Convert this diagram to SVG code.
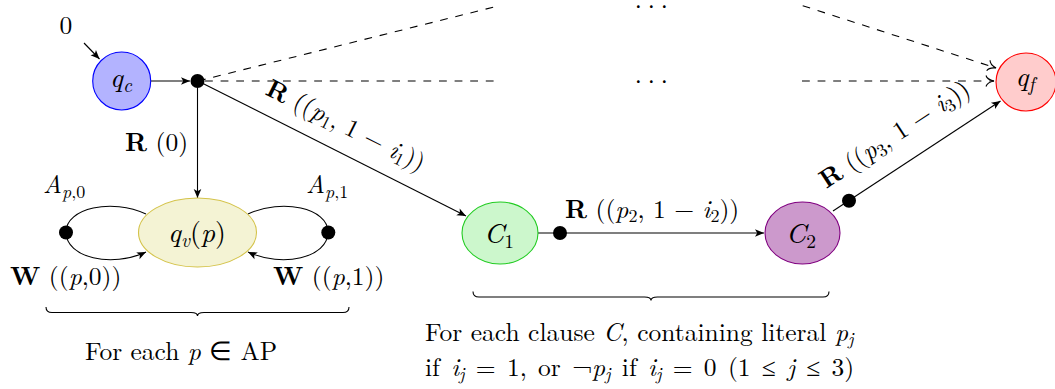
<svg xmlns="http://www.w3.org/2000/svg" width="1055" height="389" viewBox="0 0 1055 389" font-family="'Latin Modern Roman', 'Liberation Serif', serif">
<defs>
<style>
text{font-size:25.5px;fill:#000}
.i{font-style:italic}
.b{font-weight:bold}
.s{font-size:18px}
.n{font-size:28px}
.ns{font-size:19.5px}
.e{stroke:#000;stroke-width:1.1;fill:none}
.d{stroke-dasharray:7.8 7.8}
.dot{fill:#000}
</style>
<marker id="ah" markerUnits="userSpaceOnUse" markerWidth="12" markerHeight="10" refX="9" refY="5" orient="auto" overflow="visible">
<path d="M0,1.2 L9,5 L0,8.8 L2.2,5 Z" fill="#000"/>
</marker>
<marker id="ao" markerUnits="userSpaceOnUse" markerWidth="12" markerHeight="12" refX="10" refY="6" orient="auto" overflow="visible">
<path d="M2,0.5 Q3,4.5 10,6 Q3,7.5 2,11.5" fill="none" stroke="#000" stroke-width="1.1"/>
</marker>
</defs>
<rect width="1055" height="389" fill="#fff"/>

<g id="connectors">
<path class="e" d="M84,43 L99.5,59" marker-end="url(#ah)"/>
<path class="e" d="M151,81 L190,81" marker-end="url(#ah)"/>
<path class="e" d="M197.5,88 L197.5,198" marker-end="url(#ah)"/>
<path class="e" d="M198,81 L466,216" marker-end="url(#ah)"/>
<path class="e" d="M538,233 L764,233" marker-end="url(#ah)"/>
<path class="e" d="M833,211 L1000.5,101" marker-end="url(#ah)"/>
<path class="e" d="M66,232 C66,208 112,198 146,214"/>
<path class="e" d="M66,232 C66,258 112,268 146,252" marker-end="url(#ah)"/>
<path class="e" d="M328,232 C328,208 282,198 248,214"/>
<path class="e" d="M328,232 C328,258 282,268 248,252" marker-end="url(#ah)"/>
<path class="e d" d="M198,81 L499.3,5.7"/>
<path class="e d" d="M802.7,5.7 L996,68" marker-end="url(#ao)"/>
<path class="e d" d="M205,81 L500,81"/>
<path class="e d" d="M802,81 L994,81" marker-end="url(#ao)"/>
<text x="0" y="0" transform="translate(334,149) rotate(26.57)" text-anchor="middle" dy="-18"><tspan class="b">R</tspan> ((<tspan class="i">p</tspan><tspan class="s" dy="4">1</tspan><tspan dy="-4">, 1 − </tspan><tspan class="i">i</tspan><tspan class="s" dy="4">1</tspan><tspan dy="-4">))</tspan></text>
<text x="565" y="218"><tspan class="b">R</tspan> ((<tspan class="i">p</tspan><tspan class="s" dy="4">2</tspan><tspan dy="-4">, 1 − </tspan><tspan class="i">i</tspan><tspan class="s" dy="4">2</tspan><tspan dy="-4">))</tspan></text>
<text x="0" y="0" transform="translate(910,158) rotate(-33.3)" text-anchor="middle" dy="-20"><tspan class="b">R</tspan> ((<tspan class="i">p</tspan><tspan class="s" dy="4">3</tspan><tspan dy="-4">, 1 − </tspan><tspan class="i">i</tspan><tspan class="s" dy="4">3</tspan><tspan dy="-4">))</tspan></text>
<text x="125" y="151"><tspan class="b">R</tspan> (0)</text>
<text x="43" y="193"><tspan class="i">A</tspan><tspan class="s i" dy="5">p</tspan><tspan class="s">,0</tspan></text>
<text x="306" y="193"><tspan class="i">A</tspan><tspan class="s i" dy="5">p</tspan><tspan class="s">,1</tspan></text>
<text x="10" y="285"><tspan class="b">W</tspan> ((<tspan class="i">p</tspan>,0))</text>
<text x="273" y="285"><tspan class="b">W</tspan> ((<tspan class="i">p</tspan>,1))</text>
</g>

<g id="init-label"><text x="66" y="34" text-anchor="middle">0</text></g>

<g id="qc">
<circle cx="121.7" cy="81" r="29" fill="#b3b3ff" stroke="#0000ff" stroke-width="1.1"/>
<text class="n" x="121" y="87" text-anchor="middle"><tspan class="i">q</tspan><tspan class="ns i" dy="4.5">c</tspan></text>
</g>
<g id="split-dot"><circle class="dot" cx="197.5" cy="81" r="7"/></g>

<g id="qv">
<ellipse cx="197.5" cy="232.5" rx="59" ry="34.5" fill="#f4f3d4" stroke="#d4c34a" stroke-width="1.1"/>
<text class="n" x="197" y="242" text-anchor="middle"><tspan class="i">q</tspan><tspan class="ns i" dy="4.5">v</tspan><tspan dy="-4.5">(</tspan><tspan class="i">p</tspan>)</text>
</g>
<g id="dot-p0"><circle class="dot" cx="66" cy="232.5" r="7"/></g>
<g id="dot-p1"><circle class="dot" cx="328.3" cy="232.5" r="7"/></g>

<g id="C1">
<ellipse cx="500" cy="233" rx="38" ry="31" fill="#ccf7cc" stroke="#22cc22" stroke-width="1.1"/>
<text class="n" x="499" y="243" text-anchor="middle"><tspan class="i">C</tspan><tspan class="ns" dy="4.5">1</tspan></text>
</g>
<g id="dot-c1"><circle class="dot" cx="560" cy="233" r="7"/></g>

<g id="C2">
<ellipse cx="802.5" cy="233" rx="37.5" ry="31" fill="#cc99cc" stroke="#800080" stroke-width="1.1"/>
<text class="n" x="801" y="243" text-anchor="middle"><tspan class="i">C</tspan><tspan class="ns" dy="4.5">2</tspan></text>
</g>
<g id="dot-c2"><circle class="dot" cx="849" cy="200.7" r="7"/></g>

<g id="qf">
<ellipse cx="1026" cy="82" rx="30" ry="29" fill="#ffcccc" stroke="#ff0000" stroke-width="1.1"/>
<text class="n" x="1025" y="86" text-anchor="middle"><tspan class="i">q</tspan><tspan class="ns i" dy="4.5">f</tspan></text>
</g>

<g id="dots-top"><text x="634.7" y="8" letter-spacing="6" font-size="22">...</text></g>
<g id="dots-mid"><text x="634.7" y="82.5" letter-spacing="6" font-size="22">...</text></g>

<g id="brace-ap">
<path class="e" d="M46,307 Q46,312.5 52,312.5 L191,312.5 Q197.5,312.5 197.5,316 Q197.5,312.5 204,312.5 L343,312.5 Q349,312.5 349,307"/>
<text x="181" y="360" text-anchor="middle" textLength="192">For each <tspan class="i">p</tspan> ∈ AP</text>
</g>

<g id="brace-clause">
<path class="e" d="M473,291.5 Q473,297 479,297 L644.5,297 Q651,297 651,300.5 Q651,297 657.5,297 L823,297 Q829,297 829,291.5"/>
<text><tspan x="425" y="341">For each clause <tspan class="i">C</tspan>, containing literal <tspan class="i">p</tspan><tspan class="s i" dy="3.5">j</tspan></tspan><tspan x="425" y="376" word-spacing="2.8">if <tspan class="i">i</tspan><tspan class="s i" dy="3.5">j</tspan><tspan dy="-3.5"> = 1, or ¬</tspan><tspan class="i">p</tspan><tspan class="s i" dy="3.5">j</tspan><tspan dy="-3.5"> if </tspan><tspan class="i">i</tspan><tspan class="s i" dy="3.5">j</tspan><tspan dy="-3.5"> = 0 (1 ≤ </tspan><tspan class="i">j</tspan> ≤ 3)</tspan></text>
</g>
</svg>
